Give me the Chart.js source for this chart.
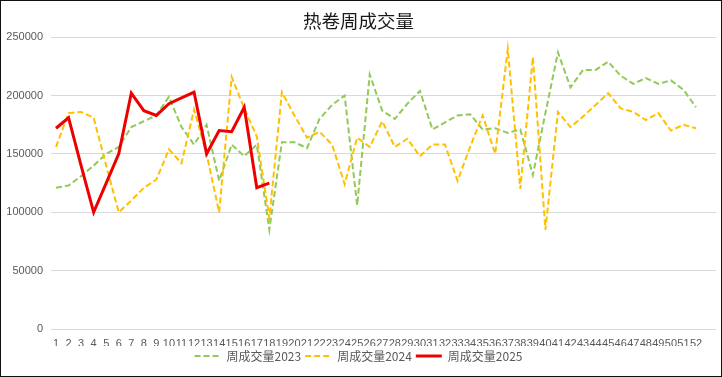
<!DOCTYPE html>
<html>
<head>
<meta charset="utf-8">
<script src="https://cdn.jsdelivr.net/npm/chart.js@4/dist/chart.umd.min.js"></script>
<style>
  body { margin: 0; background: #fff; }
  #wrap { width: 722px; height: 377px; box-sizing: border-box; border: 1px solid #111; }
  canvas { display: block; }
</style>
</head>
<body>
<div id="wrap"><canvas id="chart" width="720" height="375"></canvas></div>
<script>
const title = "热卷周成交量";
const weeks = Array.from({ length: 52 }, (_, i) => i + 1);
const seriesNames = ["周成交量2023", "周成交量2024", "周成交量2025"];
const yTicks = [0, 50000, 100000, 150000, 200000, 250000];

const vol2023 = [121000, 123000, 131000, 140000, 150000, 156000, 173000, 178000, 183000, 199000,
  173000, 158000, 175000, 127000, 158000, 148000, 158000, 85000, 160000, 160000,
  155000, 180000, 192000, 200000, 106000, 218000, 187000, 180000, 193000, 204000,
  171000, 177000, 183000, 184000, 171000, 172000, 168000, 171000, 132000, 185000,
  237000, 207000, 222000, 222000, 229000, 217000, 210000, 215000, 210000, 213000,
  205000, 190000];
const vol2024 = [156000, 185000, 186000, 181000, 140000, 100000, 110000, 121000, 128000, 154000,
  142000, 188000, 150000, 100000, 216000, 189000, 165000, 95000, 203000, 183000,
  164000, 169000, 158000, 124000, 164000, 156000, 178000, 156000, 163000, 148000,
  158000, 158000, 127000, 156000, 183000, 150000, 240000, 120000, 233000, 85000,
  186000, 173000, 182000, 192000, 202000, 189000, 186000, 179000, 185000, 170000,
  175000, 172000];
const vol2025 = [172000, 181000, 140000, 100000, 125000, 150000, 202000, 187000, 183000, 193000,
  198000, 203000, 150000, 170000, 169000, 190000, 121000, 125000];

document.addEventListener("DOMContentLoaded", () => {
  const toPoints = (vals) => vals.map((v, i) => ({ x: weeks[i], y: v }));

  new Chart(document.getElementById("chart"), {
    type: "line",
    data: {
      datasets: [
        { label: seriesNames[0], data: toPoints(vol2023), borderColor: "#92C95A", borderWidth: 2, borderDash: [6, 3], order: 2 },
        { label: seriesNames[1], data: toPoints(vol2024), borderColor: "#FFC000", borderWidth: 2, borderDash: [6, 3], order: 1 },
        { label: seriesNames[2], data: toPoints(vol2025), borderColor: "#EE0000", borderWidth: 3, order: 0 },
      ],
    },
    options: {
      responsive: false,
      animation: false,
      layout: { padding: { left: 0, right: 5, top: 0, bottom: 4 } },
      elements: { point: { radius: 0 }, line: { tension: 0, fill: false } },
      scales: {
        x: {
          type: "linear",
          min: 0.6016,
          max: 53.594,
          grid: { display: false, drawTicks: false },
          border: { display: false },
          afterBuildTicks: (scale) => { scale.ticks = weeks.map((w) => ({ value: w })); },
          afterFit: (scale) => { scale.height = 17; },
          ticks: {
            autoSkip: false,
            maxRotation: 0,
            padding: 8,
            color: "#595959",
            font: { family: "Liberation Sans", size: 11 },
            callback: (v) => String(v),
          },
        },
        y: {
          min: 0,
          max: 250000,
          afterBuildTicks: (scale) => { scale.ticks = yTicks.map((v) => ({ value: v })); },
          afterFit: (scale) => { scale.width = 50; },
          grid: { color: "#D9D9D9", drawTicks: false },
          border: { display: false },
          ticks: {
            padding: 8,
            color: "#595959",
            font: { family: "Liberation Sans", size: 11 },
            callback: (v) => String(v),
          },
        },
      },
      plugins: {
        title: {
          display: true,
          text: title,
          color: "#1a1a1a",
          font: { family: "Noto Sans CJK SC", size: 18.5, weight: "normal" },
          padding: { top: 9, bottom: 5 },
        },
        legend: {
          position: "bottom",
          labels: {
            usePointStyle: true,
            pointStyle: "line",
            pointStyleWidth: 26,
            boxHeight: 12,
            padding: 4,
            color: "#595959",
            font: { family: "Noto Sans CJK SC", size: 12 },
            sort: (a, b) => a.datasetIndex - b.datasetIndex,
            generateLabels: (chart) =>
              Chart.defaults.plugins.legend.labels.generateLabels(chart).map((item) => {
                const ds = chart.data.datasets[item.datasetIndex];
                item.lineDash = ds.borderDash || [];
                item.lineWidth = ds.borderWidth;
                item.strokeStyle = ds.borderColor;
                return item;
              }),
          },
        },
        tooltip: { enabled: false },
      },
    },
  });
});
</script>
</body>
</html>
